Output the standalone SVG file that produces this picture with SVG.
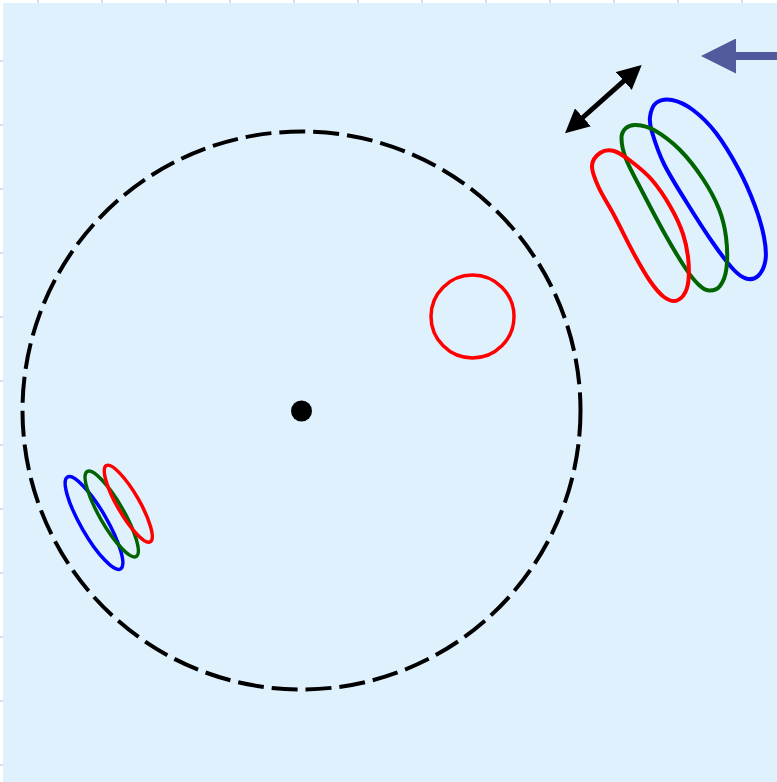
<svg xmlns="http://www.w3.org/2000/svg" width="777" height="782" viewBox="0 0 777 782">
  <style>
    .tick { stroke: #d3ddf6; stroke-width: 2; }
    .orbit { fill: none; stroke: #000; stroke-width: 4; stroke-dasharray: 26 8; }
    .loop { fill: none; stroke-width: 4; stroke-linejoin: round; }
    .small { fill: none; stroke-width: 3.5; }
    .blue { stroke: #0000ff; }
    .green { stroke: #006400; }
    .red { stroke: #ff0000; }
  </style>
  <defs>
    <marker id="blackHead" markerUnits="userSpaceOnUse" viewBox="0 0 24 24" markerWidth="24" markerHeight="24" refX="1" refY="12" orient="auto-start-reverse">
      <path d="M0,0 L24,12 L0,24 z" fill="#000"/>
    </marker>
    <marker id="purpleHead" markerUnits="userSpaceOnUse" viewBox="0 0 35 35" markerWidth="35" markerHeight="35" refX="1" refY="17.5" orient="auto">
      <path d="M0,0 L35,17.5 L0,35 z" fill="#525a9e"/>
    </marker>
  </defs>

  <rect x="0" y="0" width="777" height="782" fill="#ffffff"/>
  <rect x="3" y="3" width="774" height="779" fill="#dff1fd"/>

  <g id="ticks">
    <line class="tick" x1="38" y1="0" x2="38" y2="3"/>
    <line class="tick" x1="102" y1="0" x2="102" y2="3"/>
    <line class="tick" x1="166" y1="0" x2="166" y2="3"/>
    <line class="tick" x1="230" y1="0" x2="230" y2="3"/>
    <line class="tick" x1="294" y1="0" x2="294" y2="3"/>
    <line class="tick" x1="358" y1="0" x2="358" y2="3"/>
    <line class="tick" x1="422" y1="0" x2="422" y2="3"/>
    <line class="tick" x1="486" y1="0" x2="486" y2="3"/>
    <line class="tick" x1="550" y1="0" x2="550" y2="3"/>
    <line class="tick" x1="614" y1="0" x2="614" y2="3"/>
    <line class="tick" x1="678" y1="0" x2="678" y2="3"/>
    <line class="tick" x1="742" y1="0" x2="742" y2="3"/>
    <line class="tick" x1="0" y1="61" x2="3" y2="61"/>
    <line class="tick" x1="0" y1="125" x2="3" y2="125"/>
    <line class="tick" x1="0" y1="189" x2="3" y2="189"/>
    <line class="tick" x1="0" y1="253" x2="3" y2="253"/>
    <line class="tick" x1="0" y1="317" x2="3" y2="317"/>
    <line class="tick" x1="0" y1="381" x2="3" y2="381"/>
    <line class="tick" x1="0" y1="445" x2="3" y2="445"/>
    <line class="tick" x1="0" y1="509" x2="3" y2="509"/>
    <line class="tick" x1="0" y1="573" x2="3" y2="573"/>
    <line class="tick" x1="0" y1="637" x2="3" y2="637"/>
    <line class="tick" x1="0" y1="701" x2="3" y2="701"/>
    <line class="tick" x1="0" y1="765" x2="3" y2="765"/>
  </g>

  <g id="orbit">
    <circle class="orbit" cx="301.5" cy="410.5" r="279"/>
  </g>
  <g id="center-dot">
    <circle cx="301.5" cy="411" r="10.5" fill="#000"/>
  </g>
  <g id="red-circle">
    <circle cx="472.5" cy="316.5" r="41.5" fill="none" stroke="#ff0000" stroke-width="3.5"/>
  </g>

  <g id="large-blue">
    <path class="loop blue" d="M650,117 C650.67,112.17 652.33,105.83 656,103 C659.67,100.17 665.83,98.83 672,100 C678.17,101.17 685.67,104.5 693,110 C700.33,115.5 708.33,123 716,133 C723.67,143 732.5,157.83 739,170 C745.5,182.17 750.83,194.83 755,206 C759.17,217.17 762.25,228 764,237 C765.75,246 766.5,253.5 765.5,260 C764.5,266.5 761.25,272.92 758,276 C754.75,279.08 750.17,279.67 746,278.5 C741.83,277.33 738.5,274.92 733,269 C727.5,263.08 720.67,254 713,243 C705.33,232 695.17,216.17 687,203 C678.83,189.83 669.83,175.83 664,164 C658.17,152.17 654.33,139.83 652,132 C649.67,124.17 649.33,121.83 650,117 Z"/>
  </g>
  <g id="large-green">
    <path class="loop green" d="M621.5,138 C621.5,132.83 623.58,130.17 626,128 C628.42,125.83 631.33,124.67 636,125 C640.67,125.33 646.67,125.83 654,130 C661.33,134.17 671.83,141.83 680,150 C688.17,158.17 696.5,169.17 703,179 C709.5,188.83 715.17,199.33 719,209 C722.83,218.67 724.75,227.17 726,237 C727.25,246.83 727.5,259.83 726.5,268 C725.5,276.17 722.92,282.25 720,286 C717.08,289.75 712.5,290.67 709,290.5 C705.5,290.33 702.83,288.58 699,285 C695.17,281.42 691.5,277.17 686,269 C680.5,260.83 673.17,248.67 666,236 C658.83,223.33 649.67,205.83 643,193 C636.33,180.17 629.58,168.17 626,159 C622.42,149.83 621.5,143.17 621.5,138 Z"/>
  </g>
  <g id="large-red">
    <path class="loop red" d="M592,166 C592.25,160.33 596.33,155.5 600,153 C603.67,150.5 608.67,149.5 614,151 C619.33,152.5 625.67,157.17 632,162 C638.33,166.83 645.67,172.67 652,180 C658.33,187.33 664.83,197 670,206 C675.17,215 679.92,224.67 683,234 C686.08,243.33 687.83,253 688.5,262 C689.17,271 688.92,281.58 687,288 C685.08,294.42 680.83,299 677,300.5 C673.17,302 668.5,300.25 664,297 C659.5,293.75 655,288.17 650,281 C645,273.83 639.83,264.67 634,254 C628.17,243.33 620.92,228.17 615,217 C609.08,205.83 602.33,195.5 598.5,187 C594.67,178.5 591.75,171.67 592,166 Z"/>
  </g>

  <g id="small-blue">
    <ellipse class="small blue" cx="94" cy="523" rx="53" ry="13" transform="rotate(60 94 523)"/>
  </g>
  <g id="small-green">
    <ellipse class="small green" cx="111.7" cy="514" rx="49" ry="12" transform="rotate(60 111.7 514)"/>
  </g>
  <g id="small-red">
    <ellipse class="small red" cx="128.3" cy="503.7" rx="44" ry="11" transform="rotate(60 128.3 503.7)"/>
  </g>

  <g id="connectors">
    <line x1="582.2" y1="118" x2="624.5" y2="80.3" stroke="#000" stroke-width="5" marker-start="url(#blackHead)" marker-end="url(#blackHead)"/>
    <line x1="777" y1="56" x2="735" y2="56" stroke="#525a9e" stroke-width="8" marker-end="url(#purpleHead)"/>
  </g>
</svg>
